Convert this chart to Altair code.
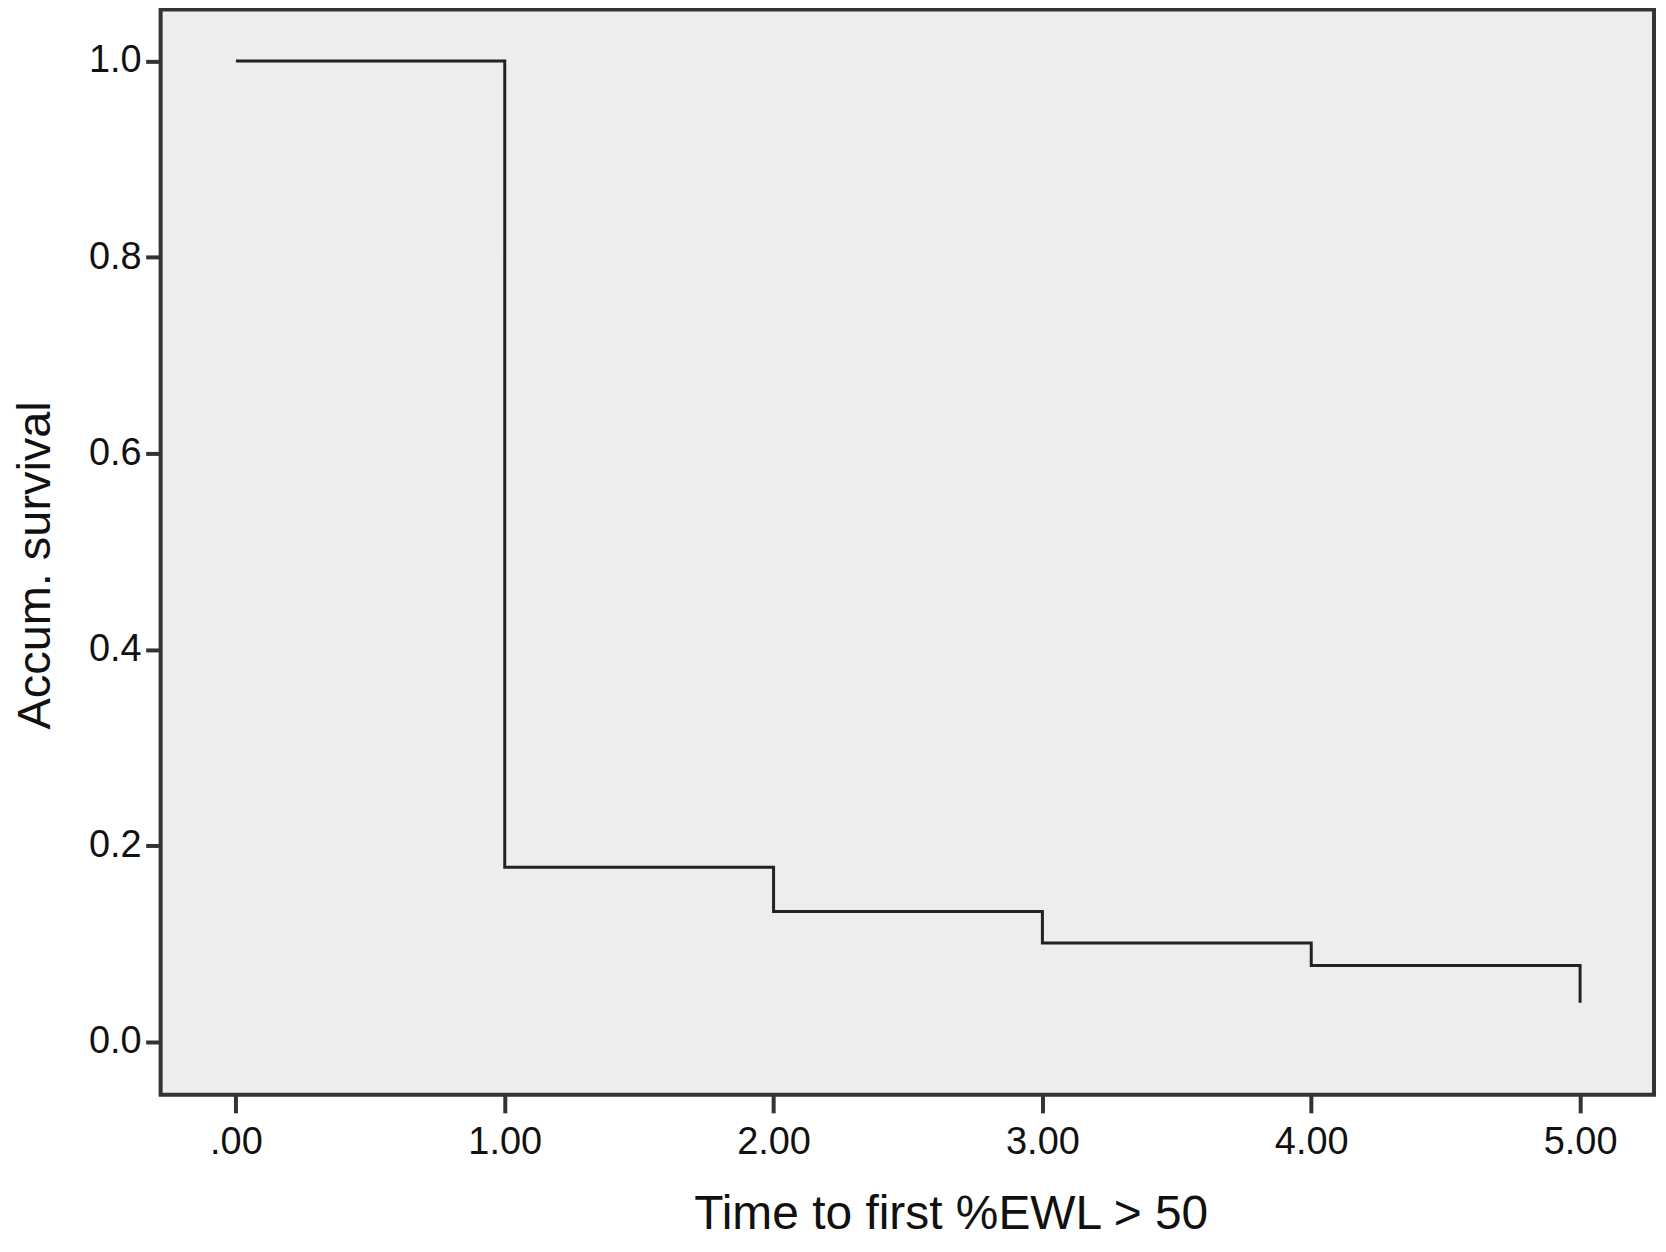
import altair as alt
import pandas as pd

# Kaplan-Meier style step curve
time_points = [0.0, 1.0, 2.0, 3.0, 4.0, 5.0]
survival = [1.0, 0.178, 0.133, 0.101, 0.078, 0.040]

x_ticks = [0, 1, 2, 3, 4, 5]
y_ticks = [0.0, 0.2, 0.4, 0.6, 0.8, 1.0]

x_title = "Time to first %EWL > 50"
y_title = "Accum. survival"

df = pd.DataFrame({"t": time_points, "s": survival})

FONT = "Liberation Sans"

chart = (
    alt.Chart(df)
    .mark_line(interpolate="step-after", color="#222222", strokeWidth=3, clip=True)
    .encode(
        x=alt.X(
            "t:Q",
            scale=alt.Scale(domain=[-0.280, 5.275], nice=False, zero=False),
            axis=alt.Axis(
                values=x_ticks,
                labelExpr="datum.value == 0 ? '.00' : format(datum.value, '.2f')",
                grid=False,
                domain=False,
                tickSize=18,
                tickWidth=4,
                tickColor="#333333",
                labelFont=FONT,
                labelFontSize=38,
                labelColor="#111111",
                labelBaseline="alphabetic",
                labelPadding=40.5,
                labelFlush=False,
                labelOverlap=False,
                title=x_title,
                titleFont=FONT,
                titleFontSize=48,
                titleFontWeight="normal",
                titleColor="#111111",
                titleX=792,
                titleY=134,
                titleAlign="center",
                titleBaseline="alphabetic",
            ),
        ),
        y=alt.Y(
            "s:Q",
            scale=alt.Scale(domain=[-0.0539, 1.0524], nice=False, zero=False),
            axis=alt.Axis(
                values=y_ticks,
                format=".1f",
                grid=False,
                domain=False,
                tickSize=15,
                tickWidth=4,
                tickColor="#333333",
                labelFont=FONT,
                labelFontSize=38,
                labelColor="#111111",
                labelPadding=4.5,
                labelFlush=False,
                labelOverlap=False,
                title=y_title,
                titleFont=FONT,
                titleFontSize=47,
                titleFontWeight="normal",
                titleColor="#111111",
                titleX=-111,
                titleY=556.7,
                titleAngle=-90,
                titleAlign="center",
                titleBaseline="alphabetic",
            ),
        ),
    )
    .properties(
        width=1497,
        height=1088,
        autosize=alt.AutoSizeParams(type="none"),
        padding={"left": 153, "top": 0, "right": 4, "bottom": 144},
        background="white",
    )
    .configure_view(fill="#ededed", stroke="#333333", strokeWidth=4)
)

chart.save("out.html", embed_options={"renderer": "svg", "actions": False})
